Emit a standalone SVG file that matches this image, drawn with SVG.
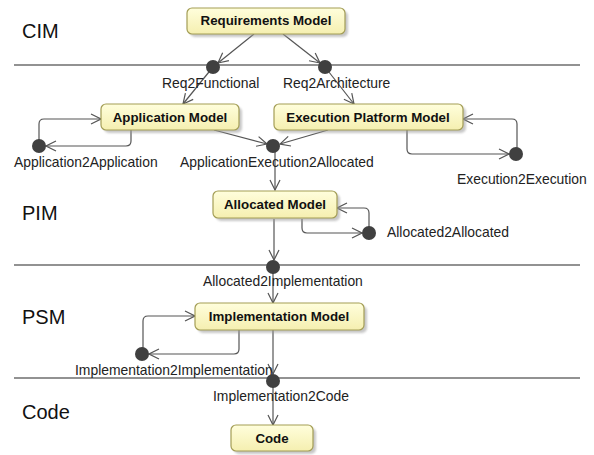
<svg xmlns="http://www.w3.org/2000/svg" width="594" height="455" viewBox="0 0 594 455">
  <style>
    .lane { stroke: #6e6e6e; stroke-width: 1.6; fill: none; }
    .lane-label { font-family: "Liberation Sans", Arial, sans-serif; font-size: 20px; fill: #111; }
    .box { fill: url(#boxFill); stroke: #a39d55; stroke-width: 1.2; }
    .shadow { fill: #9a9a9a; opacity: 0.55; filter: url(#soft); }
    .title { font-family: "Liberation Sans", Arial, sans-serif; font-size: 13.3px; font-weight: bold; fill: #111; text-anchor: middle; }
    .label { font-family: "Liberation Sans", Arial, sans-serif; font-size: 13.9px; fill: #222; }
    .dot { fill: #404040; }
    .wire { stroke: #555; stroke-width: 1.2; fill: none; marker-end: url(#open); }
  </style>
  <defs>
    <linearGradient id="boxFill" x1="0" y1="0" x2="0" y2="1">
      <stop offset="0" stop-color="#fffedc"/>
      <stop offset="1" stop-color="#f5efb0"/>
    </linearGradient>
    <filter id="soft" x="-10%" y="-30%" width="120%" height="160%">
      <feGaussianBlur stdDeviation="1.2"/>
    </filter>
    <marker id="open" viewBox="0 0 12 12" refX="11" refY="6" markerWidth="12" markerHeight="12" markerUnits="userSpaceOnUse" orient="auto">
      <path d="M1,1 L11,6 L1,11" fill="none" stroke="#555" stroke-width="1.2"/>
    </marker>
  </defs>

  <!-- swimlane separators and layer names -->
  <g id="lanes">
    <line class="lane" x1="14" y1="65" x2="580" y2="65"/>
    <line class="lane" x1="14" y1="265" x2="580" y2="265"/>
    <line class="lane" x1="14" y1="378" x2="580" y2="378"/>
    <text class="lane-label" x="22" y="38">CIM</text>
    <text class="lane-label" x="22" y="220">PIM</text>
    <text class="lane-label" x="22" y="324">PSM</text>
    <text class="lane-label" x="22" y="419">Code</text>
  </g>

  <!-- connectors -->
  <g id="connectors">
    <line class="wire" x1="254" y1="34" x2="218" y2="63"/>
    <line class="wire" x1="213" y1="67" x2="183" y2="104"/>
    <line class="wire" x1="283" y1="34" x2="320" y2="63"/>
    <line class="wire" x1="325" y1="67" x2="354" y2="104"/>
    <line class="wire" x1="214" y1="130" x2="267" y2="144"/>
    <line class="wire" x1="328" y1="130" x2="280" y2="144"/>
    <line class="wire" x1="275" y1="146" x2="275" y2="190"/>
    <line class="wire" x1="274" y1="219" x2="274" y2="260"/>
    <line class="wire" x1="273" y1="267" x2="273" y2="303"/>
    <line class="wire" x1="273" y1="330" x2="273" y2="374"/>
    <line class="wire" x1="273" y1="381" x2="273" y2="425"/>
    <!-- self transitions -->
    <path class="wire" d="M131,130 V141 Q131,146 126,146 H46"/>
    <path class="wire" d="M39,146 V124 Q39,119 44,119 H101"/>
    <path class="wire" d="M407,130 V149 Q407,154 412,154 H509"/>
    <path class="wire" d="M517,154 V124 Q517,119 512,119 H463"/>
    <path class="wire" d="M302,219 V228 Q302,233 307,233 H362"/>
    <path class="wire" d="M369,233 V213 Q369,208 364,208 H337"/>
    <path class="wire" d="M239,330 V349 Q239,354 234,354 H149"/>
    <path class="wire" d="M143,354 V321 Q143,316 148,316 H195"/>
  </g>

  <!-- model nodes -->
  <g id="requirements-model">
    <rect class="shadow" x="190" y="11" width="158" height="26" rx="5"/>
    <rect class="box" x="187" y="8" width="158" height="26" rx="5"/>
    <text class="title" x="266" y="25">Requirements Model</text>
  </g>
  <g id="application-model">
    <rect class="shadow" x="104" y="107" width="138" height="26" rx="5"/>
    <rect class="box" x="101" y="104" width="138" height="26" rx="5"/>
    <text class="title" x="170" y="122">Application Model</text>
  </g>
  <g id="execution-platform-model">
    <rect class="shadow" x="277" y="107" width="189" height="26" rx="5"/>
    <rect class="box" x="274" y="104" width="189" height="26" rx="5"/>
    <text class="title" x="368" y="122">Execution Platform Model</text>
  </g>
  <g id="allocated-model">
    <rect class="shadow" x="216" y="194" width="124" height="27" rx="5"/>
    <rect class="box" x="213" y="191" width="124" height="27" rx="5"/>
    <text class="title" x="275" y="209">Allocated Model</text>
  </g>
  <g id="implementation-model">
    <rect class="shadow" x="198" y="306" width="169" height="27" rx="5"/>
    <rect class="box" x="195" y="303" width="169" height="27" rx="5"/>
    <text class="title" x="279" y="321">Implementation Model</text>
  </g>
  <g id="code">
    <rect class="shadow" x="234" y="428" width="82" height="26" rx="5"/>
    <rect class="box" x="231" y="425" width="82" height="26" rx="5"/>
    <text class="title" x="272" y="443">Code</text>
  </g>

  <!-- transformation nodes -->
  <g id="req2functional">
    <circle class="dot" cx="213" cy="67" r="7"/>
    <text class="label" x="162" y="88">Req2Functional</text>
  </g>
  <g id="req2architecture">
    <circle class="dot" cx="325" cy="67" r="7"/>
    <text class="label" x="283" y="88">Req2Architecture</text>
  </g>
  <g id="application2application">
    <circle class="dot" cx="39" cy="146" r="7"/>
    <text class="label" x="14" y="167">Application2Application</text>
  </g>
  <g id="applicationexecution2allocated">
    <circle class="dot" cx="273" cy="146" r="7"/>
    <text class="label" x="180" y="167">ApplicationExecution2Allocated</text>
  </g>
  <g id="execution2execution">
    <circle class="dot" cx="516" cy="154" r="7"/>
    <text class="label" x="457" y="184">Execution2Execution</text>
  </g>
  <g id="allocated2allocated">
    <circle class="dot" cx="369" cy="233" r="7"/>
    <text class="label" x="387" y="237">Allocated2Allocated</text>
  </g>
  <g id="allocated2implementation">
    <circle class="dot" cx="273" cy="267" r="7"/>
    <text class="label" x="203" y="286">Allocated2Implementation</text>
  </g>
  <g id="implementation2implementation">
    <circle class="dot" cx="142" cy="354" r="7"/>
    <text class="label" x="75" y="375">Implementation2Implementation</text>
  </g>
  <g id="implementation2code">
    <circle class="dot" cx="273" cy="381" r="7"/>
    <text class="label" x="213" y="401">Implementation2Code</text>
  </g>
</svg>
